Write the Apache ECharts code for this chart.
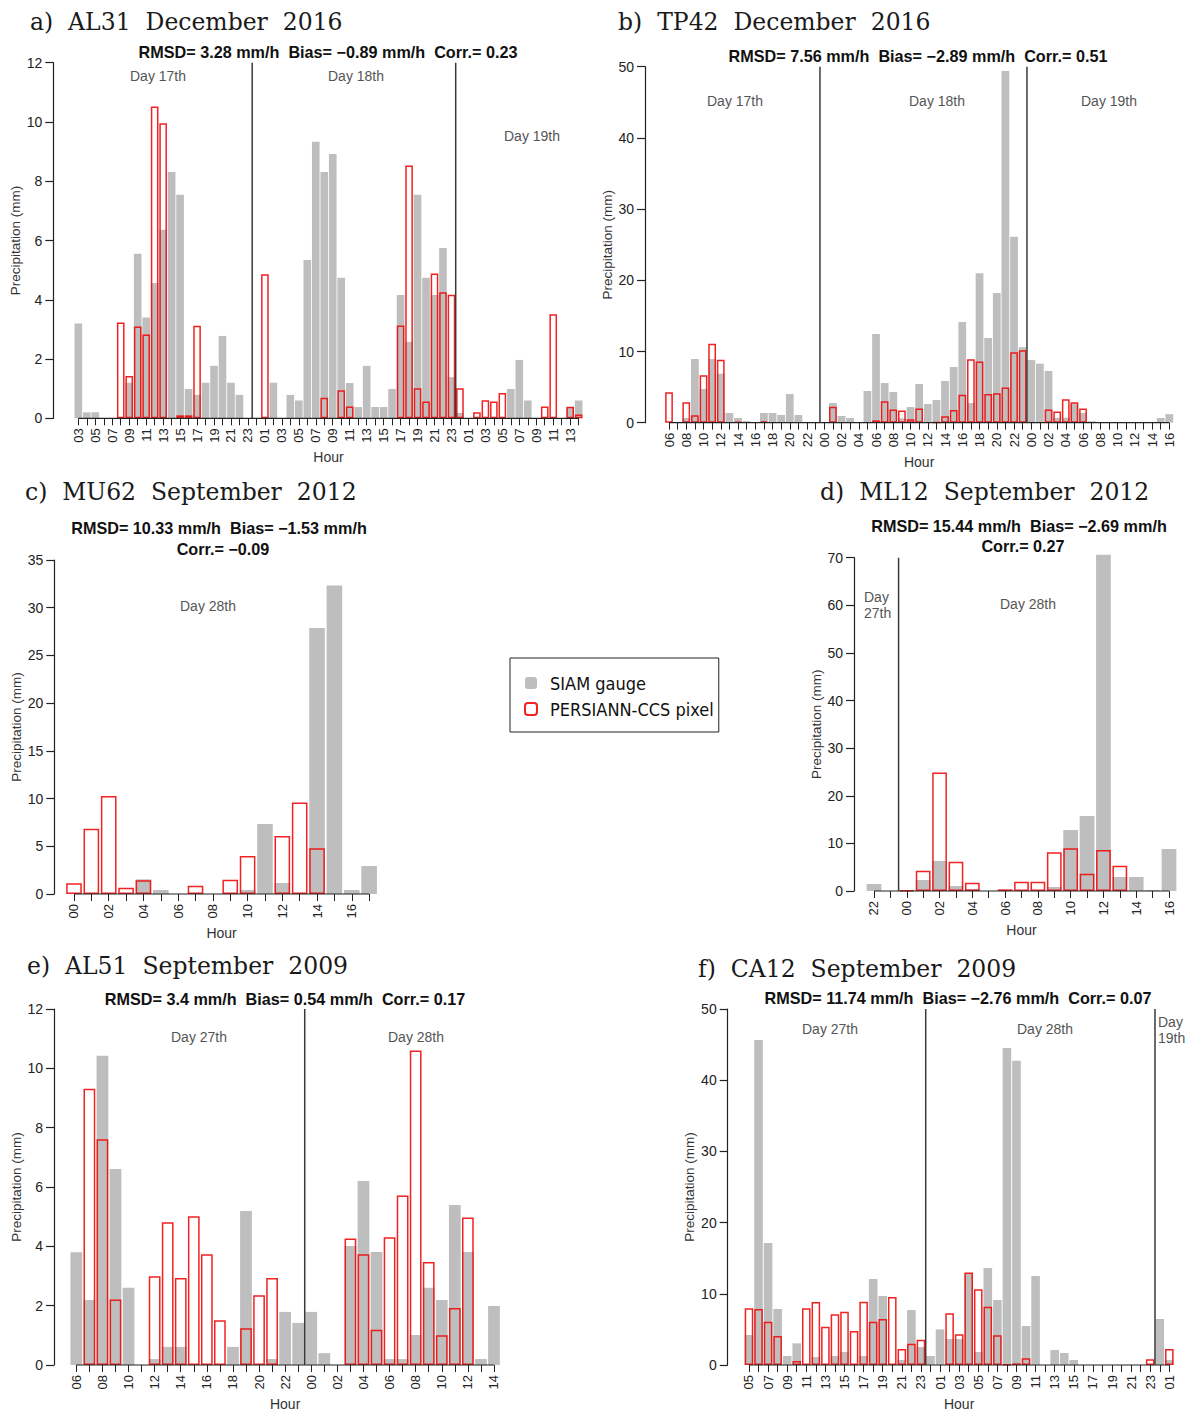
<!DOCTYPE html>
<html><head><meta charset="utf-8">
<script src="https://cdn.jsdelivr.net/npm/echarts@6/dist/echarts.min.js"></script>
<style>html,body{margin:0;padding:0;background:#fff}#c{width:1192px;height:1412px}</style>
</head><body><div id="c"></div>
<script>
// ---------------- DATA ----------------
// a) AL31 December 2016 : day17 03h .. day19 14h
const catsA = ['03','04','05','06','07','08','09','10','11','12','13','14','15','16','17','18','19','20','21','22','23',
  '00','01','02','03','04','05','06','07','08','09','10','11','12','13','14','15','16','17','18','19','20','21','22','23',
  '00','01','02','03','04','05','06','07','08','09','10','11','12','13','14'];
const gaugeA = [3.2,0.2,0.2,0,0,0,1.2,5.55,3.4,4.57,6.36,8.31,7.54,0.99,0.79,1.2,1.77,2.78,1.2,0.79,0,
  0,0,1.2,0,0.79,0.6,5.34,9.33,8.31,8.92,4.74,1.19,0.38,1.77,0.38,0.38,0.99,4.16,2.58,7.54,4.74,4.16,5.75,1.39,
  0.18,0,0,0,0,0,0.99,1.97,0.6,0,0,0,0,0.38,0.6];
const satA = [0,0,0,0,0,3.23,1.43,3.1,2.83,10.52,9.96,0,0.1,0.1,3.12,0,0,0,0,0,0,
  0,4.86,0,0,0,0,0,0,0.69,0,0.95,0.4,0,0,0,0,0,3.13,8.53,1.01,0.57,4.89,4.25,4.17,
  1.01,0,0.2,0.61,0.57,0.85,0,0,0,0,0.4,3.51,0,0.39,0.13];

// b) TP42 December 2016 : day17 06h .. day19 16h
const catsB = ['06','07','08','09','10','11','12','13','14','15','16','17','18','19','20','21','22','23',
  '00','01','02','03','04','05','06','07','08','09','10','11','12','13','14','15','16','17','18','19','20','21','22','23',
  '00','01','02','03','04','05','06','07','08','09','10','11','12','13','14','15','16'];
const gaugeB = [0,0,0.66,8.94,4.73,8.94,6.88,1.36,0.66,0.23,0,1.36,1.36,1.08,4.03,1.08,0,0,
  0,2.76,0.94,0.66,0,4.45,12.45,5.57,4.31,0.6,2.2,5.43,2.62,3.18,5.85,7.82,14.14,2.76,21.0,11.9,18.2,49.4,26.1,10.6,
  8.8,8.29,7.26,0.7,0.7,2.7,1.36,0.2,0,0,0,0,0,0,0,0.66,1.2];
const satB = [4.26,0,2.86,1.03,6.65,11.1,8.85,0,0.1,0,0,0.2,0,0,0,0,0,0,
  0,2.25,0,0,0,0,0.33,3.0,1.85,1.73,0.47,2.0,0,0.05,0.89,1.78,3.93,8.9,8.61,4.03,4.12,4.96,9.88,10.16,
  0,0,1.87,1.59,3.28,2.86,2.0,0,0,0,0,0,0,0,0,0,0];

// c) MU62 September 2012 : day28 00h .. 17h
const catsC = ['00','01','02','03','04','05','06','07','08','09','10','11','12','13','14','15','16','17'];
const gaugeC = [0,0,0,0,1.54,0.42,0,0,0,0,0.42,7.33,1.15,0,27.87,32.34,0.42,2.93];
const satC = [1.12,6.85,10.27,0.66,1.43,0,0,0.87,0,1.5,3.98,0,6.08,9.6,4.79,0,0,0];

// d) ML12 September 2012 : day27 22h .. day28 16h
const catsD = ['22','23','00','01','02','03','04','05','06','07','08','09','10','11','12','13','14','15','16'];
const gaugeD = [1.47,0,0,2.31,6.3,1.05,0.42,0,0,0,0.2,0.84,12.8,15.75,70.6,2.94,2.94,0.2,8.82];
const satD = [0,0,0.14,4.27,24.9,6.16,1.75,0,0.35,1.96,1.96,8.12,8.96,3.64,8.61,5.32,0,0,0];

// e) AL51 September 2009 : day27 06h .. day28 14h
const catsE = ['06','07','08','09','10','11','12','13','14','15','16','17','18','19','20','21','22','23',
  '00','01','02','03','04','05','06','07','08','09','10','11','12','13','14'];
const gaugeE = [3.8,2.19,10.42,6.61,2.6,0,0.2,0.61,0.61,0,0,0,0.61,5.19,0,0.2,1.79,1.42,
  1.79,0.4,0,4.01,6.2,3.81,0.2,0.2,1.01,2.6,2.19,5.39,3.81,0.2,1.99];
const satE = [0,9.31,7.61,2.21,0,0,2.99,4.81,2.93,5.01,3.73,1.51,0,1.24,2.35,2.93,0,0,
  0,0,0,4.26,3.73,1.19,4.31,5.71,10.6,3.47,1.0,1.92,4.97,0,0];

// f) CA12 September 2009 : day27 05h .. day29 01h
const catsF = ['05','06','07','08','09','10','11','12','13','14','15','16','17','18','19','20','21','22','23',
  '00','01','02','03','04','05','06','07','08','09','10','11','12','13','14','15','16','17','18','19','20','21','22','23',
  '00','01'];
const gaugeF = [4.21,45.65,17.13,7.87,1.26,3.04,0,1.12,0,1.26,1.83,0,1.26,12.08,9.69,0,0.7,7.72,2.53,
  1.26,5.0,3.65,3.65,12.9,1.83,13.62,9.13,44.52,42.74,5.48,12.5,0,2.1,1.69,0.7,0,0,0,0,0,0,0,0,
  6.46,0.7];
const satF = [7.96,7.87,6.09,4.07,0,0.56,7.96,8.85,5.38,7.12,7.49,4.78,8.9,6.09,6.46,9.55,2.25,3.0,3.56,
  0,0,7.26,4.31,13.0,10.63,8.19,4.17,0.1,0.23,0.94,0,0,0,0,0,0,0,0,0,0,0,0,0.8,
  0,2.25];

// "\u00a0 " keeps the wide double spacing of the original typesetting
const titles = ['a)\u00a0 AL31\u00a0 December\u00a0 2016','b)\u00a0 TP42\u00a0 December\u00a0 2016','c)\u00a0 MU62\u00a0 September\u00a0 2012',
  'd)\u00a0 ML12\u00a0 September\u00a0 2012','e)\u00a0 AL51\u00a0 September\u00a0 2009','f)\u00a0 CA12\u00a0 September\u00a0 2009'];
const stats = [
  ['RMSD= 3.28 mm/h\u00a0 Bias= \u22120.89 mm/h\u00a0 Corr.= 0.23'],
  ['RMSD= 7.56 mm/h\u00a0 Bias= \u22122.89 mm/h\u00a0 Corr.= 0.51'],
  ['RMSD= 10.33 mm/h\u00a0 Bias= \u22121.53 mm/h','Corr.= \u22120.09'],
  ['RMSD= 15.44 mm/h\u00a0 Bias= \u22122.69 mm/h','Corr.= 0.27'],
  ['RMSD= 3.4 mm/h\u00a0 Bias= 0.54 mm/h\u00a0 Corr.= 0.17'],
  ['RMSD= 11.74 mm/h\u00a0 Bias= \u22122.76 mm/h\u00a0 Corr.= 0.07']
];
const dayLabels = [
  ['Day 17th','Day 18th','Day 19th'],
  ['Day 17th','Day 18th','Day 19th'],
  ['Day 28th'],
  ['Day\n27th','Day 28th'],
  ['Day 27th','Day 28th'],
  ['Day 27th','Day 28th','Day\n19th']
];

// ---------------- LAYOUT ----------------
const panels = [
  {cats:catsA, gauge:gaugeA, sat:satA, grid:{left:74.1, top:62.7, width:508.8, height:355.6}, yx:53.3, max:12, step:2, div:[20,44],
   title:[30,22], stat:[[328,52]], days:[[158,76,'center'],[356,76,'center'],[532,136,'center']]},
  {cats:catsB, gauge:gaugeB, sat:satB, grid:{left:664.7, top:66.7, width:508.9, height:356}, yx:645, max:50, step:10, div:[17,41],
   title:[618,22], stat:[[918,56]], days:[[735,101,'center'],[937,101,'center'],[1109,101,'center']]},
  {cats:catsC, gauge:gaugeC, sat:satC, grid:{left:65.3, top:560, width:312.5, height:334}, yx:54.3, max:35, step:5, div:[],
   title:[25,492], stat:[[219,528],[223,549]], days:[[208,606,'center']]},
  {cats:catsD, gauge:gaugeD, sat:satD, grid:{left:865.8, top:557.7, width:311.4, height:333.3}, yx:854, max:70, step:10, div:[1],
   title:[820,492], stat:[[1019,526],[1023,546]], days:[[864,605,'left'],[1028,604,'center']]},
  {cats:catsE, gauge:gaugeE, sat:satE, grid:{left:69.8, top:1009, width:430.7, height:356}, yx:54, max:12, step:2, div:[17],
   title:[27,966], stat:[[285,999]], days:[[199,1037,'center'],[416,1037,'center']]},
  {cats:catsF, gauge:gaugeF, sat:satF, grid:{left:744.2, top:1009, width:429.9, height:356}, yx:727.7, max:50, step:10, div:[18,42],
   title:[698,969], stat:[[958,998]], days:[[830,1029,'center'],[1045,1029,'center'],[1158,1030,'left']]}
];

const SANS = 'Liberation Sans, Arial, Helvetica, sans-serif';
const GREY = '#bebebe';
const RED = 'rgba(240,10,10,0.9)';
const INK = '#222';

const option = {
  animation:false, backgroundColor:'#fff',
  grid:[], xAxis:[], yAxis:[], series:[],
  legend:{
    left:510, top:658, orient:'vertical', itemWidth:12, itemHeight:12, itemGap:8,
    padding:[16,5,14,14], borderColor:'#222', borderWidth:1, backgroundColor:'#fff',
    textStyle:{fontSize:18, fontFamily:'Liberation Sans Narrow, DejaVu Sans Condensed, sans-serif', color:'#111', padding:[0,0,0,8]},
    data:['SIAM gauge','PERSIANN-CCS pixel']
  }
};

panels.forEach((p,k)=>{
  option.grid.push(Object.assign({containLabel:false}, p.grid));
  option.xAxis.push({
    type:'category', gridIndex:k, data:p.cats, boundaryGap:true,
    axisLine:{show:false},
    axisTick:{show:true, alignWithLabel:true, interval:0, length:7, lineStyle:{color:INK, width:1}},
    axisLabel:{interval:1, rotate:90, fontSize:13, color:INK, fontFamily:SANS, margin:10},
    splitLine:{show:false},
    name:'Hour', nameLocation:'middle', nameGap:32,
    nameTextStyle:{fontSize:14, color:'#333', fontFamily:SANS}
  });
  option.yAxis.push({
    type:'value', gridIndex:k, min:0, max:p.max, interval:p.step, offset:p.grid.left - p.yx,
    axisLine:{show:true, lineStyle:{color:INK, width:1.2}},
    axisTick:{show:true, length:8, lineStyle:{color:INK, width:1.2}},
    axisLabel:{fontSize:14, color:INK, fontFamily:SANS, margin:11},
    splitLine:{show:false},
    name:'Precipitation (mm)', nameLocation:'middle', nameRotate:90, nameGap:31,
    nameTextStyle:{fontSize:13.5, color:'#333', fontFamily:SANS}
  });
  option.series.push({
    type:'bar', name:'SIAM gauge', xAxisIndex:k, yAxisIndex:k, data:p.gauge,
    barCategoryGap:'10%', barGap:'-100%', clip:false, z:2,
    itemStyle:{color:GREY}
  });
  option.series.push({
    type:'bar', name:'PERSIANN-CCS pixel', xAxisIndex:k, yAxisIndex:k,
    data:p.sat.map(v=> v===0 ? '-' : v),
    barCategoryGap:'10%', barGap:'-100%', clip:false, z:3,
    itemStyle:{color:'rgba(255,255,255,0)', borderColor:RED, borderWidth:1.5}
  });
});

const chart = echarts.init(document.getElementById('c'), null, {renderer:'svg', width:1192, height:1412});
chart.setOption(option);

// annotations: titles, statistics, day labels, day dividers and baselines
function T(text, x, y, o){
  return {type:'text', x:x, y:y, z:100, silent:true,
    style:Object.assign({text:text, fill:INK, fontSize:14, fontFamily:SANS,
      textAlign:'center', textVerticalAlign:'middle', align:'center', verticalAlign:'middle'}, o||{})};
}
const elems = [];
panels.forEach((p,k)=>{
  elems.push(T(titles[k], p.title[0], p.title[1], {fontSize:23.5, fontFamily:'DejaVu Serif, serif', fill:'#1a1a1a',
    textAlign:'left', align:'left'}));
  stats[k].forEach((s,i)=>{
    elems.push(T(s, p.stat[i][0], p.stat[i][1], {fontSize:16.2, fontWeight:'bold', fill:'#111'}));
  });
  dayLabels[k].forEach((s,i)=>{
    const d = p.days[i];
    elems.push(T(s, d[0], d[1], {fill:'#555', fontSize:14, textAlign:d[2], align:d[2], lineHeight:16}));
  });
  const yz = chart.convertToPixel({yAxisIndex:k}, 0);
  const yt = chart.convertToPixel({yAxisIndex:k}, p.max);
  // baseline from first to last tick
  const xa = chart.convertToPixel({xAxisIndex:k}, 0);
  const xb = chart.convertToPixel({xAxisIndex:k}, p.cats.length-1);
  elems.push({type:'line', z:100, silent:true, shape:{x1:xa, y1:yz, x2:xb, y2:yz}, style:{stroke:INK, lineWidth:1.2}});
  p.div.forEach(d=>{
    const x = (chart.convertToPixel({xAxisIndex:k}, d) + chart.convertToPixel({xAxisIndex:k}, d+1))/2;
    elems.push({type:'line', z:101, silent:true, shape:{x1:x, y1:yz, x2:x, y2:yt}, style:{stroke:'#3a3a3a', lineWidth:1.5}});
  });
});
chart.setOption({graphic:{elements:elems}});
</script></body></html>
